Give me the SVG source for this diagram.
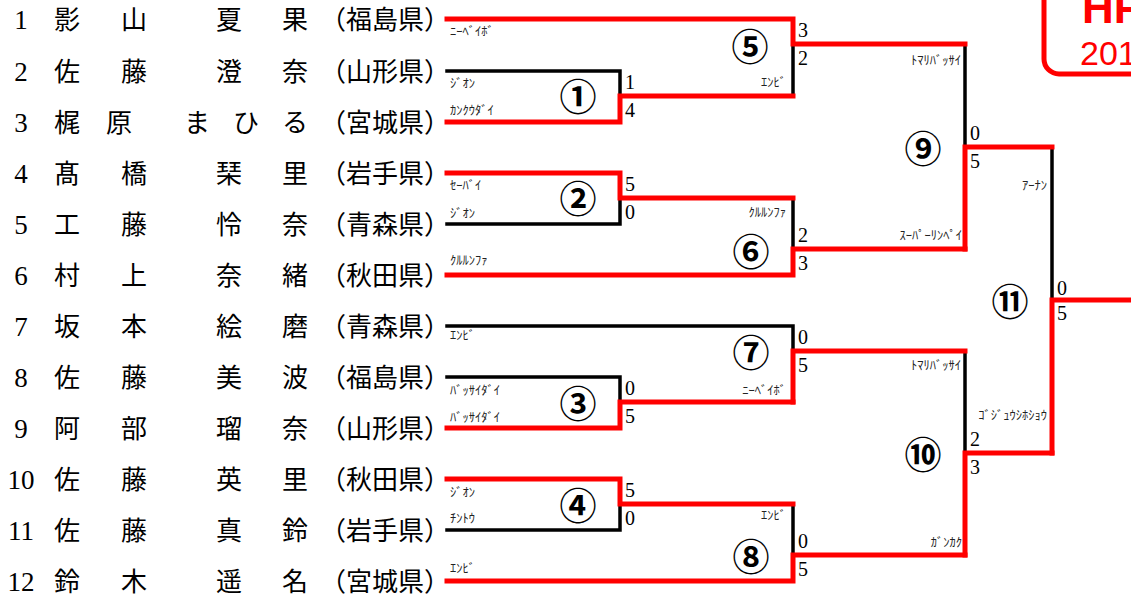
<svg xmlns="http://www.w3.org/2000/svg" width="1131" height="599" viewBox="0 0 1131 599">
<style>
.num{font-family:"Liberation Serif",serif;font-size:27px;fill:#000;text-anchor:middle}
.nm{font-family:"Noto Sans CJK JP",sans-serif;font-size:26px;fill:#000}
.sc{font-family:"Liberation Serif",serif;font-size:20px;fill:#000}
.lb{font-family:"Noto Sans CJK JP",sans-serif;font-size:12.5px;fill:#222}
.lbr{font-family:"Noto Sans CJK JP",sans-serif;font-size:12.5px;fill:#222;text-anchor:end}
.mc{font-family:"Noto Sans CJK JP",sans-serif;font-size:37px;fill:#000;text-anchor:middle;dominant-baseline:central;font-weight:bold}
.r{fill:none;stroke:#FF0000;stroke-width:5;stroke-linejoin:miter;stroke-linecap:square}
.k{fill:none;stroke:#000;stroke-width:3.5;stroke-linejoin:miter;stroke-linecap:square}
</style>
<rect width="1131" height="599" fill="#fff"/>
<g id="logo">
<rect x="1044" y="-40" width="120" height="114" rx="15" ry="15" fill="none" stroke="#FF0000" stroke-width="5"/>
<text x="1082" y="23" font-family="Liberation Sans,sans-serif" font-size="44" font-weight="bold" fill="#FF0000">HP</text>
<text x="1080" y="65" font-family="Liberation Sans,sans-serif" font-size="34" fill="#FF0000">201</text>
</g>
<g id="connectors">
<path class="k" d="M447,71 H620 V96"/>
<path class="k" d="M447,224 H620 V198"/>
<path class="k" d="M447,377 H620 V402"/>
<path class="k" d="M447,530 H620 V504"/>
<path class="k" d="M793,96 V44"/>
<path class="k" d="M793,198 V249"/>
<path class="k" d="M447,326 H793 V351"/>
<path class="k" d="M793,504 V555"/>
<path class="k" d="M965,44 V147"/>
<path class="k" d="M965,351 V453"/>
<path class="k" d="M1052,147 V300"/>
<path class="r" d="M447,122 H620 V96 H793"/>
<path class="r" d="M447,173 H620 V198 H793"/>
<path class="r" d="M447,428 H620 V402 H793"/>
<path class="r" d="M447,479 H620 V504 H793"/>
<path class="r" d="M447,19 H793 V44 H965"/>
<path class="r" d="M447,275 H793 V249 H965"/>
<path class="r" d="M793,402 V351 H965"/>
<path class="r" d="M447,581 H793 V555 H965"/>
<path class="r" d="M965,249 V147 H1052"/>
<path class="r" d="M965,555 V453 H1052"/>
<path class="r" d="M1052,453 V300 H1136"/>
</g>
<g id="p1"><text class="num" x="21" y="29">1</text><text class="nm" y="29"><tspan x="54">影</tspan><tspan x="121">山</tspan><tspan x="216">夏</tspan><tspan x="282">果</tspan><tspan x="320">（福島県）</tspan></text><text class="lb" x="450" y="36">ﾆｰﾍﾞｲﾎﾞ</text></g>
<g id="p2"><text class="num" x="21" y="81">2</text><text class="nm" y="81"><tspan x="54">佐</tspan><tspan x="121">藤</tspan><tspan x="216">澄</tspan><tspan x="282">奈</tspan><tspan x="320">（山形県）</tspan></text><text class="lb" x="450" y="88">ｼﾞｵﾝ</text></g>
<g id="p3"><text class="num" x="21" y="132">3</text><text class="nm" y="132"><tspan x="54">梶</tspan><tspan x="106">原</tspan><tspan x="184">ま</tspan><tspan x="233">ひ</tspan><tspan x="282">る</tspan><tspan x="320">（宮城県）</tspan></text><text class="lb" x="450" y="115">ｶﾝｸｳﾀﾞｲ</text></g>
<g id="p4"><text class="num" x="21" y="183">4</text><text class="nm" y="183"><tspan x="54">髙</tspan><tspan x="121">橋</tspan><tspan x="216">琹</tspan><tspan x="282">里</tspan><tspan x="320">（岩手県）</tspan></text><text class="lb" x="450" y="190">ｾｰﾊﾞｲ</text></g>
<g id="p5"><text class="num" x="21" y="234">5</text><text class="nm" y="234"><tspan x="54">工</tspan><tspan x="121">藤</tspan><tspan x="216">怜</tspan><tspan x="282">奈</tspan><tspan x="320">（青森県）</tspan></text><text class="lb" x="450" y="218">ｼﾞｵﾝ</text></g>
<g id="p6"><text class="num" x="21" y="285">6</text><text class="nm" y="285"><tspan x="54">村</tspan><tspan x="121">上</tspan><tspan x="216">奈</tspan><tspan x="282">緒</tspan><tspan x="320">（秋田県）</tspan></text><text class="lb" x="450" y="265">ｸﾙﾙﾝﾌｧ</text></g>
<g id="p7"><text class="num" x="21" y="336">7</text><text class="nm" y="336"><tspan x="54">坂</tspan><tspan x="121">本</tspan><tspan x="216">絵</tspan><tspan x="282">磨</tspan><tspan x="320">（青森県）</tspan></text><text class="lb" x="450" y="340">ｴﾝﾋﾞ</text></g>
<g id="p8"><text class="num" x="21" y="387">8</text><text class="nm" y="387"><tspan x="54">佐</tspan><tspan x="121">藤</tspan><tspan x="216">美</tspan><tspan x="282">波</tspan><tspan x="320">（福島県）</tspan></text><text class="lb" x="450" y="395">ﾊﾞｯｻｲﾀﾞｲ</text></g>
<g id="p9"><text class="num" x="21" y="438">9</text><text class="nm" y="438"><tspan x="54">阿</tspan><tspan x="121">部</tspan><tspan x="216">瑠</tspan><tspan x="282">奈</tspan><tspan x="320">（山形県）</tspan></text><text class="lb" x="450" y="422">ﾊﾞｯｻｲﾀﾞｲ</text></g>
<g id="p10"><text class="num" x="21" y="489">10</text><text class="nm" y="489"><tspan x="54">佐</tspan><tspan x="121">藤</tspan><tspan x="216">英</tspan><tspan x="282">里</tspan><tspan x="320">（秋田県）</tspan></text><text class="lb" x="450" y="497">ｼﾞｵﾝ</text></g>
<g id="p11"><text class="num" x="21" y="540">11</text><text class="nm" y="540"><tspan x="54">佐</tspan><tspan x="121">藤</tspan><tspan x="216">真</tspan><tspan x="282">鈴</tspan><tspan x="320">（岩手県）</tspan></text><text class="lb" x="450" y="523">ﾁﾝﾄｳ</text></g>
<g id="p12"><text class="num" x="21" y="591">12</text><text class="nm" y="591"><tspan x="54">鈴</tspan><tspan x="121">木</tspan><tspan x="216">遥</tspan><tspan x="282">名</tspan><tspan x="320">（宮城県）</tspan></text><text class="lb" x="450" y="573">ｴﾝﾋﾞ</text></g>
<g id="m1"><text class="mc" x="578" y="95">①</text><text class="sc" x="625" y="89">1</text><text class="sc" x="625" y="117">4</text></g>
<g id="m2"><text class="mc" x="578" y="197">②</text><text class="sc" x="625" y="191">5</text><text class="sc" x="625" y="219">0</text></g>
<g id="m3"><text class="mc" x="578" y="402">③</text><text class="sc" x="625" y="395">0</text><text class="sc" x="625" y="423">5</text></g>
<g id="m4"><text class="mc" x="578" y="504">④</text><text class="sc" x="625" y="497">5</text><text class="sc" x="625" y="525">0</text></g>
<g id="m5"><text class="mc" x="750" y="45">⑤</text><text class="sc" x="798" y="37">3</text><text class="sc" x="798" y="65">2</text><text class="lbr" x="786" y="87">ｴﾝﾋﾞ</text></g>
<g id="m6"><text class="mc" x="751" y="250">⑥</text><text class="sc" x="798" y="242">2</text><text class="sc" x="798" y="270">3</text><text class="lbr" x="786" y="217">ｸﾙﾙﾝﾌｧ</text></g>
<g id="m7"><text class="mc" x="751" y="351">⑦</text><text class="sc" x="798" y="344">0</text><text class="sc" x="798" y="372">5</text><text class="lbr" x="786" y="395">ﾆｰﾍﾞｲﾎﾞ</text></g>
<g id="m8"><text class="mc" x="751" y="555">⑧</text><text class="sc" x="798" y="548">0</text><text class="sc" x="798" y="576">5</text><text class="lbr" x="786" y="520">ｴﾝﾋﾞ</text></g>
<g id="m9"><text class="mc" x="923" y="147">⑨</text><text class="sc" x="970" y="140">0</text><text class="sc" x="970" y="168">5</text><text class="lbr" x="961" y="65">ﾄﾏﾘﾊﾞｯｻｲ</text><text class="lbr" x="962" y="240">ｽｰﾊﾟｰﾘﾝﾍﾟｲ</text></g>
<g id="m10"><text class="mc" x="923" y="453">⑩</text><text class="sc" x="970" y="446">2</text><text class="sc" x="970" y="474">3</text><text class="lbr" x="961" y="370">ﾄﾏﾘﾊﾞｯｻｲ</text><text class="lbr" x="962" y="547">ｶﾞﾝｶｸ</text></g>
<g id="m11"><text class="mc" x="1010" y="300">⑪</text><text class="sc" x="1057" y="295">0</text><text class="sc" x="1057" y="320">5</text><text class="lbr" x="1047" y="190">ｱｰﾅﾝ</text><text class="lbr" x="1047" y="420">ｺﾞｼﾞｭｳｼﾎｼｮｳ</text></g>
</svg>
